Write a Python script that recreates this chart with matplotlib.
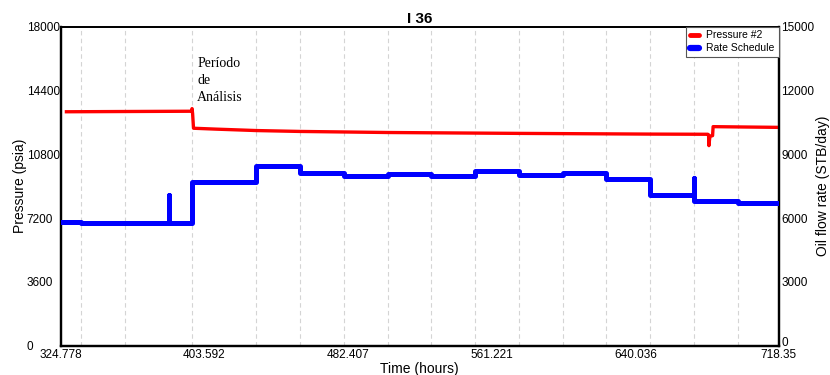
import matplotlib
matplotlib.use("Agg")
import matplotlib.pyplot as plt
from matplotlib.lines import Line2D

# ---------------- data ----------------
x_ticks = [324.778, 403.592, 482.407, 561.221, 640.036, 718.35]
x_tick_labels = ["324.778", "403.592", "482.407", "561.221", "640.036", "718.35"]
grid_hours = [336, 360, 397, 432, 456, 480, 504, 528, 552, 576, 600, 624, 648, 672, 696]

p_ticks = [0, 3600, 7200, 10800, 14400, 18000]
q_ticks = [0, 3000, 6000, 9000, 12000, 15000]

pressure_time = [327.0, 396.6, 396.8, 397.1, 397.6, 410, 432, 456, 504, 576, 648, 679.6,
                 680.0, 680.2, 680.6, 681.0, 682.2, 682.5, 700, 718.35]
pressure_vals = [13200, 13230, 13380, 13100, 12270, 12220, 12140, 12090, 12030, 11980, 11940, 11930,
                 11900, 11290, 11700, 11830, 11850, 12360, 12340, 12320]

rate_time = [324.778, 336, 384.0, 384.25, 397, 432, 456, 480, 504, 528, 552, 576, 600, 624,
             648, 672, 672.25, 696, 718.35]
rate_vals = [5820, 5770, 7090, 5770, 7680, 8460, 8110, 7990, 8060, 7980, 8230, 8010, 8110, 7860,
             7100, 7870, 6800, 6720, 6720]

# ---------------- figure ----------------
plt.rcParams['font.family'] = ['Liberation Sans', 'DejaVu Sans']
fig = plt.figure(figsize=(8.3, 3.75), dpi=100)
ax = fig.add_axes([60.7 / 830, 1 - 345.7 / 375, (778.5 - 60.7) / 830, (345.7 - 26.7) / 375])
ax2 = ax.twinx()

ax.set_xlim(324.778, 718.35)
ax.set_ylim(0, 18000)
ax2.set_ylim(0, 15000)

# grid (vertical dashed lines)
ax.set_xticks(grid_hours, minor=True)
ax.grid(which='minor', axis='x', color='#d4d4d4', linestyle=(0, (4, 3)), linewidth=0.8)
ax.tick_params(axis='x', which='minor', length=0)

ax.plot(pressure_time, pressure_vals, color='#ff0000', linewidth=2.4, solid_capstyle='butt',
        label='Pressure #2', zorder=3)
ax2.plot(rate_time, rate_vals, color='#0000ff', linewidth=3.6, drawstyle='steps-post',
         label='Rate Schedule', zorder=3)

ax.set_xticks(x_ticks)
ax.set_xticklabels(x_tick_labels)
ax.set_yticks(p_ticks)
ax.set_yticklabels([str(v) for v in p_ticks])
ax2.set_yticks(q_ticks)
ax2.set_yticklabels([str(v) for v in q_ticks])

ax.tick_params(axis='x', which='major', length=0, pad=2.5, labelsize=8.5)
ax.tick_params(axis='y', length=0, pad=24.5, labelsize=8.5)
for lab in ax.get_yticklabels():
    lab.set_horizontalalignment('left')
ax2.tick_params(axis='y', length=0, pad=2, labelsize=8.5)
ax2.get_yticklabels()[0].set_verticalalignment('baseline')

for a in (ax, ax2):
    for s in ('left', 'right', 'bottom'):
        a.spines[s].set_linewidth(1.6)
        a.spines[s].set_color('black')
    a.spines['top'].set_linewidth(1.3)
    a.spines['top'].set_color('black')

ax.set_xlabel('Time (hours)', fontsize=10, labelpad=0.5)
ax.set_ylabel('Pressure (psia)', fontsize=10)
ax.yaxis.set_label_coords(-0.047, 0.5)
ax2.set_ylabel('Oil flow rate (STB/day)', fontsize=10)
ax2.yaxis.set_label_coords(1.052, 0.5)

ax.set_title('I 36', fontsize=11, fontweight='bold', pad=3)

ax.text(0.19, 0.905, 'Período\nde\nAnálisis', transform=ax.transAxes,
        family=['Liberation Serif', 'DejaVu Serif'], fontsize=10, va='top', ha='left',
        linespacing=1.38, zorder=4)

handles = [Line2D([], [], color='#ff0000', linewidth=3.5, solid_capstyle='round'),
           Line2D([], [], color='#0000ff', linewidth=4.5, solid_capstyle='round')]
leg = ax2.legend(handles, ['Pressure #2', 'Rate Schedule'], loc='upper right',
                 fontsize=7.5, frameon=True, fancybox=False, borderaxespad=0,
                 handlelength=0.9, handletextpad=0.7, labelspacing=0.3,
                 borderpad=0.35, framealpha=1)
leg.get_frame().set_edgecolor('#555555')
leg.get_frame().set_linewidth(0.8)

fig.savefig('out.png', dpi=100)
